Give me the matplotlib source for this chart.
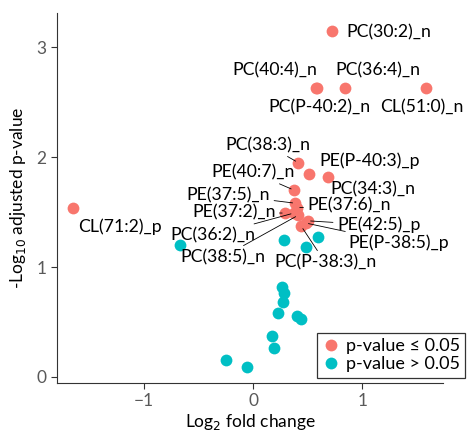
import matplotlib
matplotlib.use("Agg")
import matplotlib.pyplot as plt
from matplotlib.lines import Line2D

plt.rcParams['font.family'] = ['Lato', 'DejaVu Sans']

# Significant lipids (red): log2 fold change, -log10 adjusted p-value
sig_names = ['PC(30:2)_n', 'PC(40:4)_n', 'PC(P-40:2)_n', 'PC(36:4)_n', 'CL(51:0)_n',
             'PC(38:3)_n', 'PE(P-40:3)_p', 'PC(34:3)_n', 'PE(40:7)_n', 'CL(71:2)_p',
             'PE(37:5)_n', 'PE(37:6)_n', 'PE(37:2)_n', 'PC(36:2)_n', 'PC(38:5)_n',
             'PE(42:5)_p', 'PE(P-38:5)_p', 'PC(P-38:3)_n']
sig_fc = [0.72, 0.57, 0.58, 0.84, 1.58,
          0.41, 0.51, 0.68, 0.37, -1.65,
          0.385, 0.40, 0.29, 0.37, 0.41,
          0.50, 0.48, 0.44]
sig_p = [3.15, 2.63, 2.63, 2.63, 2.63,
         1.95, 1.85, 1.82, 1.70, 1.54,
         1.58, 1.54, 1.49, 1.49, 1.47,
         1.42, 1.40, 1.37]

# Non-significant lipids (cyan)
ns_fc = [-0.67, 0.28, 0.48, 0.59, 0.26, 0.28, 0.27, 0.23, 0.40, 0.44,
         0.17, 0.19, -0.25, -0.06]
ns_p = [1.20, 1.25, 1.18, 1.27, 0.82, 0.76, 0.68, 0.58, 0.55, 0.53,
        0.37, 0.26, 0.15, 0.09]

# label placement (data coords) and whether a leader segment is drawn
label_xy = [(1.24, 3.13), (0.20, 2.79), (0.61, 2.45), (1.14, 2.79), (1.54, 2.45),
            (0.13, 2.11), (1.07, 1.97), (1.10, 1.71), (0.00, 1.86), (-1.22, 1.37),
            (-0.23, 1.655), (0.88, 1.56), (-0.18, 1.50), (-0.37, 1.29), (-0.28, 1.09),
            (1.15, 1.38), (1.33, 1.22), (0.66, 1.04)]
leader = [False, False, False, False, False,
          True, False, False, True, False,
          True, True, True, True, True,
          True, True, True]

red = '#F8766D'
cyan = '#00BFC4'

fig = plt.figure(figsize=(4.74, 4.40), dpi=100)
ax = fig.add_axes([0.120, 0.1295, 0.815, 0.841])

ax.scatter(ns_fc, ns_p, s=72, color=cyan, linewidths=0, zorder=3)
ax.scatter(sig_fc, sig_p, s=72, color=red, linewidths=0, zorder=3)

for name, x, y, (tx, ty), seg in zip(sig_names, sig_fc, sig_p, label_xy, leader):
    props = None
    if seg:
        props = dict(arrowstyle='-', color='black', lw=0.6, shrinkA=1, shrinkB=2)
    ax.annotate(name, xy=(x, y), xytext=(tx, ty), ha='center', va='center',
                fontsize=12.7, color='black', arrowprops=props,
                annotation_clip=False, zorder=4)

ax.set_xlim(-1.80, 1.74)
ax.set_ylim(-0.055, 3.31)
ax.set_xticks([-1, 0, 1])
ax.set_yticks([0, 1, 2, 3])

for side in ['top', 'right']:
    ax.spines[side].set_visible(False)
for side in ['left', 'bottom']:
    ax.spines[side].set_color('#333333')
    ax.spines[side].set_linewidth(0.8)
ax.tick_params(axis='both', colors='#333333', labelcolor='#595959',
               labelsize=12.5, length=4, width=0.8)

ax.set_xlabel('Log$_2$ fold change', fontsize=12.5, color='black', labelpad=2)
ax.set_ylabel('-Log$_{10}$ adjusted p-value', fontsize=12.5, color='black', labelpad=6)

handles = [Line2D([], [], marker='o', linestyle='none', markersize=8.5,
                  markerfacecolor=red, markeredgewidth=0, label='p-value \u2264 0.05'),
           Line2D([], [], marker='o', linestyle='none', markersize=8.5,
                  markerfacecolor=cyan, markeredgewidth=0, label='p-value > 0.05')]
leg = fig.legend(handles=handles, loc='lower right', bbox_to_anchor=(0.982, 0.142),
                 fontsize=13, frameon=True, fancybox=False, handletextpad=0.3,
                 borderpad=0.3, labelspacing=0.1, handlelength=1.0,
                 borderaxespad=0)
leg.get_frame().set_edgecolor('black')
leg.get_frame().set_linewidth(0.9)

fig.savefig('out.png', dpi=100)
